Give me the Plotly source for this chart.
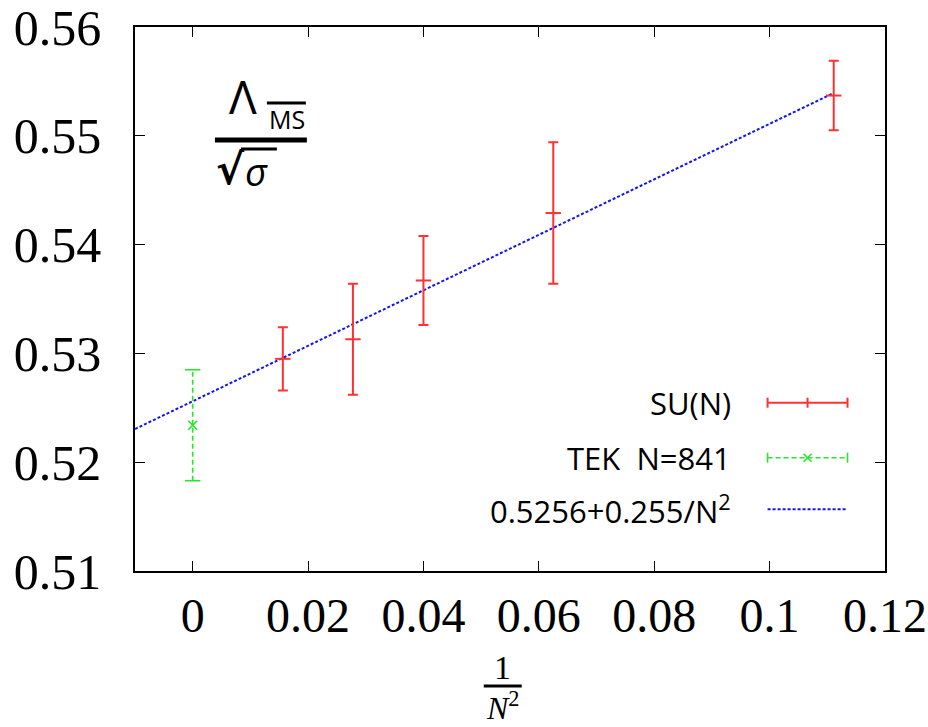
import plotly.graph_objects as go

# ---- data ----
su_x = [1/64, 1/36, 1/25, 1/16, 1/9]          # 1/N^2 for N = 8, 6, 5, 4, 3
su_y = [0.5295, 0.5313, 0.5367, 0.5429, 0.5537]
su_err = [0.0029, 0.0051, 0.0041, 0.0065, 0.0032]

tek_x = [0.0]
tek_y = [0.5234]
tek_err = [0.0051]

fit_a = 0.5256
fit_b = 0.255
fit_xrange = [-0.01, 1/9]

x_ticks = [0, 0.02, 0.04, 0.06, 0.08, 0.1, 0.12]
x_ticklabels = ["0", "0.02", "0.04", "0.06", "0.08", "0.1", "0.12"]
y_ticks = [0.51, 0.52, 0.53, 0.54, 0.55, 0.56]
y_ticklabels = ["0.51", "0.52", "0.53", "0.54", "0.55", "0.56"]

legend_labels = ["SU(N)", "TEK  N=841", "0.5256+0.255/N<sup>2</sup>"]

RED = "rgb(255,50,50)"
GREEN = "rgb(40,230,40)"
BLUE = "rgb(20,20,240)"

W, H = 928, 727
L, T = 135, 27
R = W - 885.5
B = H - 571
PW, PH = W - L - R, H - T - B


def px(xp):
    return (xp - L) / PW


def py(yp):
    return (H - B - yp) / PH


fig = go.Figure()

# fit line
fit_y = [fit_a + fit_b * x for x in fit_xrange]
fig.add_trace(go.Scatter(x=fit_xrange, y=fit_y, mode="lines",
                         line=dict(color=BLUE, width=2, dash="3px,2px"),
                         showlegend=False, hoverinfo="skip"))

# SU(N) points with error bars
fig.add_trace(go.Scatter(
    x=su_x, y=su_y, mode="markers",
    marker=dict(symbol="line-ew", size=11, line=dict(color=RED, width=2), color=RED),
    error_y=dict(type="data", array=su_err, visible=True, color=RED, thickness=2, width=5),
    showlegend=False))

# TEK: dashed error bar
for xv, yv, ev in zip(tek_x, tek_y, tek_err):
    fig.add_trace(go.Scatter(x=[xv, xv], y=[yv - ev, yv + ev], mode="lines+markers",
                             line=dict(color=GREEN, width=1.6, dash="5px,3px"),
                             marker=dict(symbol="line-ew", size=11, line=dict(color=GREEN, width=1.6)),
                             showlegend=False, hoverinfo="skip"))
fig.add_trace(go.Scatter(x=tek_x, y=tek_y, mode="markers",
                         marker=dict(symbol="x-thin", size=9, line=dict(color=GREEN, width=1.6)),
                         showlegend=False))

shapes = []
annotations = []

# ---- manual legend (text left, sample right) ----
leg_text_x = px(733)
leg_x0, leg_x1 = px(768), px(848)
leg_rows = [py(402.7), py(457.7), py(509.3)]
cap = 5 / PH
for lab, yr in zip(legend_labels, leg_rows):
    annotations.append(dict(x=leg_text_x, y=yr, xref="paper", yref="paper", text=lab,
                            showarrow=False, xanchor="right", yanchor="middle",
                            font=dict(family="Open Sans", size=31, color="black")))
# SU(N) sample
shapes.append(dict(type="line", xref="paper", yref="paper", x0=leg_x0, x1=leg_x1,
                   y0=leg_rows[0], y1=leg_rows[0], line=dict(color=RED, width=2)))
for xx in [leg_x0, (leg_x0 + leg_x1) / 2, leg_x1]:
    shapes.append(dict(type="line", xref="paper", yref="paper", x0=xx, x1=xx,
                       y0=leg_rows[0] - cap, y1=leg_rows[0] + cap, line=dict(color=RED, width=2)))
# TEK sample
shapes.append(dict(type="line", xref="paper", yref="paper", x0=leg_x0, x1=leg_x1,
                   y0=leg_rows[1], y1=leg_rows[1], line=dict(color=GREEN, width=1.6, dash="5px,3px")))
for xx in [leg_x0, leg_x1]:
    shapes.append(dict(type="line", xref="paper", yref="paper", x0=xx, x1=xx,
                       y0=leg_rows[1] - cap, y1=leg_rows[1] + cap, line=dict(color=GREEN, width=1.6)))
xm = (leg_x0 + leg_x1) / 2
dx, dy = 4 / PW, 4 / PH
shapes.append(dict(type="line", xref="paper", yref="paper", x0=xm - dx, x1=xm + dx,
                   y0=leg_rows[1] - dy, y1=leg_rows[1] + dy, line=dict(color=GREEN, width=1.6)))
shapes.append(dict(type="line", xref="paper", yref="paper", x0=xm - dx, x1=xm + dx,
                   y0=leg_rows[1] + dy, y1=leg_rows[1] - dy, line=dict(color=GREEN, width=1.6)))
# fit sample
shapes.append(dict(type="line", xref="paper", yref="paper", x0=leg_x0, x1=leg_x1,
                   y0=leg_rows[2], y1=leg_rows[2], line=dict(color=BLUE, width=2, dash="3px,2px")))

# ---- Lambda_MS / sqrt(sigma) label ----
annotations.append(dict(x=px(243), y=py(96), xref="paper", yref="paper", text="Λ",
                        showarrow=False, xanchor="center", yanchor="middle",
                        font=dict(family="Open Sans", size=46, color="black")))
annotations.append(dict(x=px(287), y=py(119), xref="paper", yref="paper", text="MS",
                        showarrow=False, xanchor="center", yanchor="middle",
                        font=dict(family="Open Sans", size=25, color="black")))
shapes.append(dict(type="line", xref="paper", yref="paper", x0=px(267), x1=px(306),
                   y0=py(103), y1=py(103), line=dict(color="black", width=3)))
shapes.append(dict(type="line", xref="paper", yref="paper", x0=px(215), x1=px(307),
                   y0=py(140), y1=py(140), line=dict(color="black", width=5)))
annotations.append(dict(x=px(231), y=py(170), xref="paper", yref="paper", text="<b>√</b>",
                        showarrow=False, xanchor="center", yanchor="middle",
                        font=dict(family="DejaVu Sans", size=42, color="black")))
annotations.append(dict(x=px(257), y=py(171), xref="paper", yref="paper", text="<i>σ</i>",
                        showarrow=False, xanchor="center", yanchor="middle",
                        font=dict(family="Open Sans", size=38, color="black")))
shapes.append(dict(type="line", xref="paper", yref="paper", x0=px(241), x1=px(277),
                   y0=py(149), y1=py(149), line=dict(color="black", width=3)))

# ---- x axis title 1/N^2 ----
xt = px(503)
annotations.append(dict(x=xt, y=py(667), xref="paper", yref="paper", text="1",
                        showarrow=False, xanchor="center", yanchor="middle",
                        font=dict(family="Liberation Serif", size=34, color="black")))
shapes.append(dict(type="line", xref="paper", yref="paper", x0=px(484), x1=px(522),
                   y0=py(686), y1=py(686), line=dict(color="black", width=3)))
annotations.append(dict(x=xt, y=py(706), xref="paper", yref="paper", text="<i>N</i><sup>2</sup>",
                        showarrow=False, xanchor="center", yanchor="middle",
                        font=dict(family="Liberation Serif", size=32, color="black")))

fig.update_layout(
    width=W, height=H,
    margin=dict(l=L, r=R, t=T, b=B, autoexpand=False),
    paper_bgcolor="white", plot_bgcolor="white",
    showlegend=False,
    shapes=shapes, annotations=annotations,
)
fig.update_xaxes(range=[-0.01, 0.12], tickvals=x_ticks, ticktext=x_ticklabels,
                 showgrid=False, zeroline=False, showline=True, mirror="ticks",
                 linecolor="black", linewidth=1.5, ticks="inside", ticklen=10,
                 tickcolor="black", tickwidth=1.2, ticklabelstandoff=2,
                 ticklabeloverflow="allow",
                 tickfont=dict(family="Liberation Serif", size=48, color="black"))
fig.update_yaxes(range=[0.51, 0.56], tickvals=y_ticks, ticktext=y_ticklabels,
                 showgrid=False, zeroline=False, showline=True, mirror="ticks",
                 linecolor="black", linewidth=1.5, ticks="inside", ticklen=10,
                 tickcolor="black", tickwidth=1.2, ticklabelstandoff=22,
                 ticklabeloverflow="allow",
                 tickfont=dict(family="Liberation Serif", size=50, color="black"))

fig.write_html("out.html", config={"displayModeBar": False},
               post_script="document.body.style.margin='0';document.body.style.overflow='hidden';")
